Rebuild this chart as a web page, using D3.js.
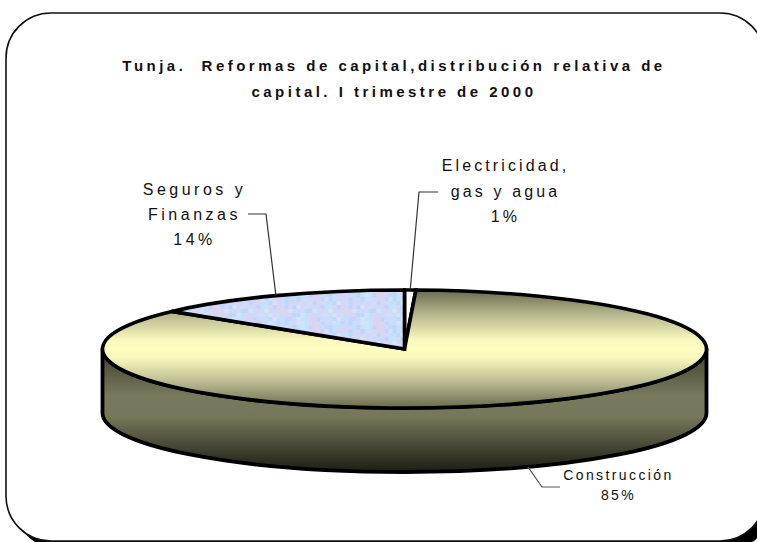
<!DOCTYPE html>
<html>
<head>
<meta charset="utf-8">
<script src="https://cdn.jsdelivr.net/npm/d3@7"></script>
<style>
html, body { margin: 0; padding: 0; background: #fff; overflow: hidden; }
svg { display: block; }
text { font-family: "Liberation Sans", Arial, sans-serif; fill: #111; }
</style>
</head>
<body>
<svg width="757" height="542"></svg>
<script>
var categories = ['Electricidad', 'Construcción', 'Seguros y Finanzas'];
var values = [0.6, 85.4, 14];
var percentLabels = ['1%', '85%', '14%'];
var titleLines = [
	'Tunja.  Reformas de capital,distribución relativa de',
	'capital. I trimestre de 2000'
];
// palette indices for the speckled fill of the Seguros slice
var texturePalette = ['#cbdcfa', '#bdd8fa', '#d6d6f6', '#c4e2fb', '#dfd3f2', '#d2e4fb'];
var textureRows = [
	'0011253344120015',
	'1013255344210053',
	'2200135314421130',
	'2210013344215134',
	'0312204431420315',
	'4412152340213341',
	'4425043115342502',
	'3042115204033254'
];

var svg = d3.select('svg');
var defs = svg.append('defs');

var cx = 404.5, cy = 349, rx = 302, ry = 59, depth = 64;

// frame with hard shadow, runs off the right side of the page
svg.append('rect')
	.attr('x', 14).attr('y', 21).attr('width', 759).attr('height', 528)
	.attr('rx', 45).attr('ry', 45)
	.attr('fill', '#000');
svg.append('rect')
	.attr('x', 6).attr('y', 13).attr('width', 759).attr('height', 528)
	.attr('rx', 45).attr('ry', 45)
	.attr('fill', '#fff').attr('stroke', '#111').attr('stroke-width', 1.6);

var title = svg.append('g')
	.attr('font-size', 15)
	.attr('font-weight', 'bold')
	.attr('text-anchor', 'middle')
	.attr('letter-spacing', 3.48);
title.selectAll('text').data(titleLines).join('text')
	.attr('x', 394)
	.attr('y', function (d, i) { return 71 + i * 25.5; })
	.style('white-space', 'pre')
	.text(function (d) { return d; });

// gradients
function gradient(id, y1, y2, stops) {
	var g = defs.append('linearGradient')
		.attr('id', id)
		.attr('gradientUnits', 'userSpaceOnUse')
		.attr('x1', 0).attr('x2', 0).attr('y1', y1).attr('y2', y2);
	stops.forEach(function (s) {
		g.append('stop').attr('offset', s[0]).attr('stop-color', s[1]);
	});
	return g;
}
gradient('topFill', cy - ry, cy + ry, [
	[0, '#6a6a4f'], [0.2, '#b4b48c'], [0.42, '#f8f8bc'], [0.5, '#ffffc0'],
	[0.58, '#f8f8bc'], [0.8, '#b4b48c'], [1, '#6a6a4f']
]).attr('gradientTransform', 'translate(0,' + (-cy * rx / ry) + ') scale(1,' + (rx / ry) + ')');
gradient('sideFill', cy, cy + ry + depth, [
	[0, '#3f3f2e'], [0.38, '#79795d'], [0.55, '#77775b'], [1, '#1d1d13']
]);

// the squash below would stretch the tile, so scale it back
var tile = 4;
var pattern = defs.append('pattern')
	.attr('id', 'speckle')
	.attr('patternUnits', 'userSpaceOnUse')
	.attr('patternTransform', 'scale(1,' + (rx / ry) + ')')
	.attr('width', tile * textureRows[0].length)
	.attr('height', tile * textureRows.length);
textureRows.forEach(function (row, j) {
	row.split('').forEach(function (c, i) {
		pattern.append('rect')
			.attr('x', i * tile).attr('y', j * tile)
			.attr('width', tile).attr('height', tile)
			.attr('fill', texturePalette[+c]);
	});
});

var pie = d3.pie().sort(null).value(function (d) { return d; })(values);
var arc = d3.arc().innerRadius(0).outerRadius(rx);

function rim(angle, drop) {
	return [cx + rx * Math.sin(angle), cy - ry * Math.cos(angle) + (drop || 0)];
}

// side wall, front half of the ellipse
svg.append('path')
	.attr('d', 'M' + (cx - rx) + ',' + cy +
		'L' + (cx - rx) + ',' + (cy + depth) +
		'A' + rx + ',' + ry + ' 0 0 0 ' + (cx + rx) + ',' + (cy + depth) +
		'L' + (cx + rx) + ',' + cy +
		'A' + rx + ',' + ry + ' 0 0 1 ' + (cx - rx) + ',' + cy + 'Z')
	.attr('fill', 'url(#sideFill)')
	.attr('stroke', '#000').attr('stroke-width', 3.8).attr('stroke-linejoin', 'round');

// top face, a circular pie squashed to the ellipse
var sliceFills = ['#fff', 'url(#topFill)', 'url(#speckle)'];
var topFace = svg.append('g')
	.attr('transform', 'translate(' + cx + ',' + cy + ') scale(1,' + (ry / rx) + ')');
topFace.selectAll('path').data(pie).join('path')
	.attr('d', arc)
	.attr('fill', function (d, i) { return sliceFills[i]; })
	.attr('stroke', '#000')
	.attr('stroke-width', 3.6)
	.attr('stroke-linejoin', 'miter')
	.attr('vector-effect', 'non-scaling-stroke');

// leader lines start at the middle of each slice on the rim
function midAngle(d) { return (d.startAngle + d.endAngle) / 2; }
var line = d3.line();
var leaders = [
	{ slice: 0, drop: 0, elbow: [419, 192], end: [438, 192], color: '#333' },
	{ slice: 2, drop: 0, elbow: [266, 214], end: [248, 214], color: '#333' },
	{ slice: 1, drop: depth, elbow: [542, 487], end: [560, 487], color: '#555' }
];
svg.append('g').attr('fill', 'none').attr('stroke-width', 1.2)
	.selectAll('path').data(leaders).join('path')
	.attr('stroke', function (d) { return d.color; })
	.attr('d', function (d) {
		return line([rim(midAngle(pie[d.slice]), d.drop), d.elbow, d.end]);
	});

// slice labels
var labelBlocks = [
	{ x: 505.5, y: 171, size: 16, spacing: 3.1, gap: 25.5, lines: ['Electricidad,', 'gas y agua', percentLabels[0]] },
	{ x: 194.5, y: 195, size: 16, spacing: 3.5, gap: 25, lines: ['Seguros y', 'Finanzas', percentLabels[2]] },
	{ x: 618.5, y: 480, size: 14, spacing: 2.4, gap: 20, lines: ['Construcción', percentLabels[1]] }
];
labelBlocks.forEach(function (b) {
	svg.append('g')
		.attr('font-size', b.size)
		.attr('letter-spacing', b.spacing)
		.attr('text-anchor', 'middle')
		.selectAll('text').data(b.lines).join('text')
		.attr('x', b.x)
		.attr('y', function (d, i) { return b.y + i * b.gap; })
		.text(function (d) { return d; });
});
</script>
</body>
</html>
